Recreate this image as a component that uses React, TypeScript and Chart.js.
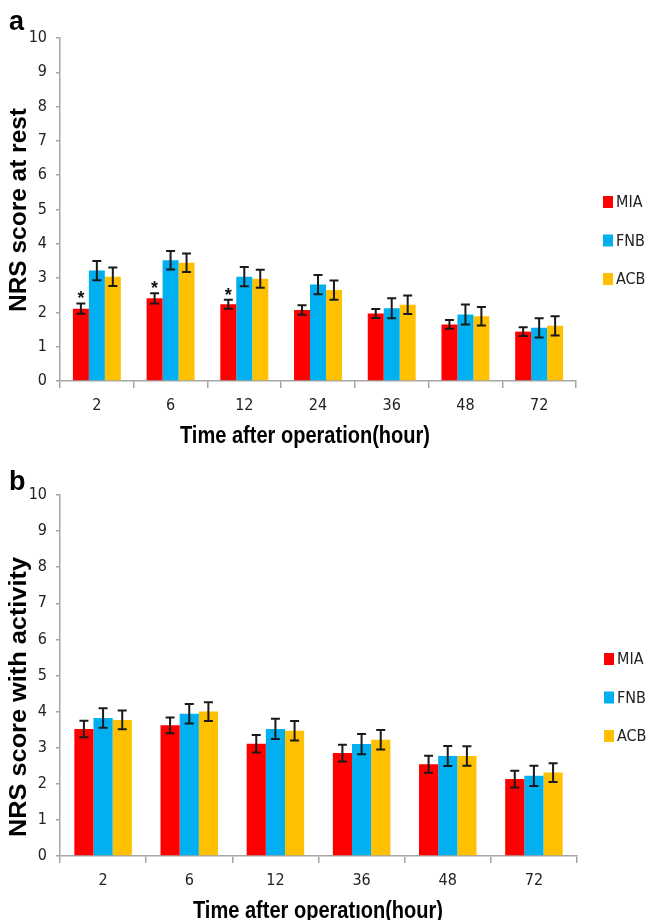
import React, { useEffect, useRef } from "react";
import { Chart, registerables } from "chart.js";

Chart.register(...registerables);

// ---------- data ----------
const seriesNames = ["MIA", "FNB", "ACB"];
const seriesColors = ["#FF0000", "#00B0F0", "#FFC000"];

const yTickMin = 0;
const yTickMax = 10;
const yTickStep = 1;

const restHours = ["2", "6", "12", "24", "36", "48", "72"];
const restMIA = [2.11, 2.41, 2.24, 2.07, 1.97, 1.65, 1.44];
const restFNB = [3.22, 3.52, 3.04, 2.81, 2.12, 1.94, 1.55];
const restACB = [3.04, 3.45, 2.98, 2.65, 2.22, 1.89, 1.61];
const restMIAErr = [0.15, 0.15, 0.13, 0.14, 0.13, 0.13, 0.13];
const restFNBErr = [0.28, 0.27, 0.28, 0.28, 0.29, 0.29, 0.28];
const restACBErr = [0.27, 0.27, 0.26, 0.28, 0.27, 0.27, 0.28];
const restSignificant = [true, true, true, false, false, false, false];

const activityHours = ["2", "6", "12", "36", "48", "72"];
const activityMIA = [3.52, 3.62, 3.11, 2.85, 2.54, 2.13];
const activityFNB = [3.82, 3.94, 3.52, 3.1, 2.77, 2.22];
const activityACB = [3.77, 4.0, 3.47, 3.22, 2.77, 2.31];
const activityMIAErr = [0.23, 0.22, 0.245, 0.235, 0.235, 0.23];
const activityFNBErr = [0.27, 0.27, 0.28, 0.28, 0.28, 0.28];
const activityACBErr = [0.26, 0.26, 0.27, 0.27, 0.27, 0.26];
const activitySignificant = [false, false, false, false, false, false];

// ---------- styling / layout ----------
const NARROW = '"DejaVu Sans Condensed", "Liberation Sans Narrow", "Liberation Sans", sans-serif';
const SANS = '"Liberation Sans", Arial, sans-serif';
const AXIS_GREY = "#A6A6A6";
const TEXT_DARK = "#222222";

type PanelCfg = {
  letter: string;
  letterY: number;
  yTitle: string;
  yTitleY: number;
  yTitleLen: number;
  xTitle: string;
  xTitleX: number;
  xTitleY: number;
  xTitleLen: number;
  categories: string[];
  values: number[][];
  errors: number[][];
  significant: boolean[];
  padTop: number;
  padRight: number;
  xHeight: number;
  catPct: number;
  legendY: number;
};

const panels: PanelCfg[] = [
  {
    letter: "a",
    letterY: 30,
    yTitle: "NRS score at rest",
    yTitleY: 210,
    yTitleLen: 204,
    xTitle: "Time after operation(hour)",
    xTitleX: 305,
    xTitleY: 443,
    xTitleLen: 250,
    categories: restHours,
    values: [restMIA, restFNB, restACB],
    errors: [restMIAErr, restFNBErr, restACBErr],
    significant: restSignificant,
    padTop: 38,
    padRight: 70,
    xHeight: 79,
    catPct: 0.65,
    legendY: 202,
  },
  {
    letter: "b",
    letterY: 30,
    yTitle: "NRS score with activity",
    yTitleY: 237,
    yTitleLen: 280,
    xTitle: "Time after operatıon(hour)",
    xTitleX: 318,
    xTitleY: 458,
    xTitleLen: 250,
    categories: activityHours,
    values: [activityMIA, activityFNB, activityACB],
    errors: [activityMIAErr, activityFNBErr, activityACBErr],
    significant: activitySignificant,
    padTop: 35,
    padRight: 69,
    xHeight: 64,
    catPct: 0.667,
    legendY: 199,
  },
];

function fitText(ctx: CanvasRenderingContext2D, text: string, len: number) {
  const w = ctx.measureText(text).width || 1;
  ctx.scale(len / w, 1);
  ctx.fillText(text, 0, 0);
}

const overlayPlugin = {
  id: "overlay",
  afterDatasetsDraw(chart: any, _args: any, opts: any) {
    const ctx = chart.ctx as CanvasRenderingContext2D;
    const ys = chart.scales.y;
    const cap = 4.5;
    chart.data.datasets.forEach((ds: any, di: number) => {
      const meta = chart.getDatasetMeta(di);
      const errs: number[] = opts.errors[di];
      meta.data.forEach((bar: any, i: number) => {
        const v = ds.data[i] as number;
        const e = errs[i];
        const top = ys.getPixelForValue(v + e);
        const bot = ys.getPixelForValue(v - e);
        ctx.save();
        ctx.strokeStyle = "#1a1a1a";
        ctx.lineWidth = 2;
        ctx.beginPath();
        ctx.moveTo(bar.x, top);
        ctx.lineTo(bar.x, bot);
        ctx.moveTo(bar.x - cap, top);
        ctx.lineTo(bar.x + cap, top);
        ctx.moveTo(bar.x - cap, bot);
        ctx.lineTo(bar.x + cap, bot);
        ctx.stroke();
        if (di === 0 && opts.significant[i]) {
          ctx.fillStyle = "#111";
          ctx.font = `bold 18px ${SANS}`;
          ctx.textAlign = "center";
          ctx.textBaseline = "alphabetic";
          ctx.fillText("*", bar.x, top + 1);
        }
        ctx.restore();
      });
    });
  },
  afterDraw(chart: any, _args: any, opts: any) {
    const ctx = chart.ctx as CanvasRenderingContext2D;
    ctx.save();
    // legend
    const lx = chart.chartArea.right + 27;
    chart.data.datasets.forEach((ds: any, di: number) => {
      const cy = opts.legendY + di * 38.5;
      ctx.fillStyle = ds.backgroundColor;
      ctx.fillRect(lx, cy - 6, 10, 12);
      ctx.fillStyle = TEXT_DARK;
      ctx.font = `16px ${NARROW}`;
      ctx.textAlign = "left";
      ctx.textBaseline = "middle";
      ctx.fillText(ds.label, lx + 13, cy + 1);
    });
    // panel letter
    ctx.fillStyle = "#000";
    ctx.font = `bold 27px ${SANS}`;
    ctx.textAlign = "left";
    ctx.textBaseline = "alphabetic";
    ctx.fillText(opts.letter, 9, opts.letterY);
    // x title
    ctx.save();
    ctx.font = `bold 24px ${SANS}`;
    ctx.textAlign = "center";
    ctx.textBaseline = "alphabetic";
    ctx.translate(opts.xTitleX, opts.xTitleY);
    fitText(ctx, opts.xTitle, opts.xTitleLen);
    ctx.restore();
    // y title
    ctx.save();
    ctx.translate(18, opts.yTitleY);
    ctx.rotate(-Math.PI / 2);
    ctx.font = `bold 24px ${SANS}`;
    ctx.textAlign = "center";
    ctx.textBaseline = "middle";
    ctx.translate(0, 1);
    fitText(ctx, opts.yTitle, opts.yTitleLen);
    ctx.restore();
    ctx.restore();
  },
};

function Panel({ cfg, top }: { cfg: PanelCfg; top: number }) {
  const ref = useRef<HTMLCanvasElement | null>(null);
  useEffect(() => {
    if (!ref.current) return;
    const chart = new Chart(ref.current, {
      type: "bar",
      data: {
        labels: cfg.categories,
        datasets: seriesNames.map((name, i) => ({
          label: name,
          data: cfg.values[i],
          backgroundColor: seriesColors[i],
          borderWidth: 0,
          categoryPercentage: cfg.catPct,
          barPercentage: 1.0,
        })),
      },
      options: {
        animation: false,
        responsive: false,
        devicePixelRatio: 1,
        layout: { padding: { top: cfg.padTop, right: cfg.padRight, left: 0, bottom: 0 } },
        plugins: {
          legend: { display: false },
          tooltip: { enabled: false },
          title: { display: false },
          overlay: {
            errors: cfg.errors,
            significant: cfg.significant,
            legendY: cfg.legendY,
            letter: cfg.letter,
            letterY: cfg.letterY,
            xTitle: cfg.xTitle,
            xTitleX: cfg.xTitleX,
            xTitleY: cfg.xTitleY,
            xTitleLen: cfg.xTitleLen,
            yTitle: cfg.yTitle,
            yTitleY: cfg.yTitleY,
            yTitleLen: cfg.yTitleLen,
          },
        } as any,
        scales: {
          x: {
            type: "category",
            offset: true,
            grid: {
              display: true,
              offset: true,
              drawOnChartArea: false,
              drawTicks: true,
              tickLength: 7,
              color: AXIS_GREY,
              lineWidth: 1.5,
            },
            border: { display: true, color: AXIS_GREY, width: 1.5 },
            ticks: {
              color: TEXT_DARK,
              font: { family: NARROW, size: 16 },
              padding: 8,
              maxRotation: 0,
            },
            afterFit(scale: any) {
              scale.height = cfg.xHeight;
            },
          },
          y: {
            min: yTickMin,
            max: yTickMax,
            grid: {
              display: true,
              drawOnChartArea: false,
              drawTicks: true,
              tickLength: 4,
              color: AXIS_GREY,
              lineWidth: 1.5,
            },
            border: { display: true, color: AXIS_GREY, width: 1.5 },
            ticks: {
              stepSize: yTickStep,
              color: TEXT_DARK,
              font: { family: NARROW, size: 16 },
              padding: 9,
            },
            afterFit(scale: any) {
              scale.width = 60;
            },
          },
        },
      },
      plugins: [overlayPlugin as any],
    });
    return () => chart.destroy();
  }, [cfg]);
  return (
    <canvas
      ref={ref}
      width={646}
      height={460}
      style={{ position: "absolute", left: 0, top, width: 646, height: 460, display: "block" }}
    />
  );
}

export default function App() {
  return (
    <div style={{ position: "absolute", left: 0, top: 0, width: 646, height: 920, background: "#ffffff", overflow: "hidden" }}>
      <Panel cfg={panels[0]} top={0} />
      <Panel cfg={panels[1]} top={460} />
    </div>
  );
}
